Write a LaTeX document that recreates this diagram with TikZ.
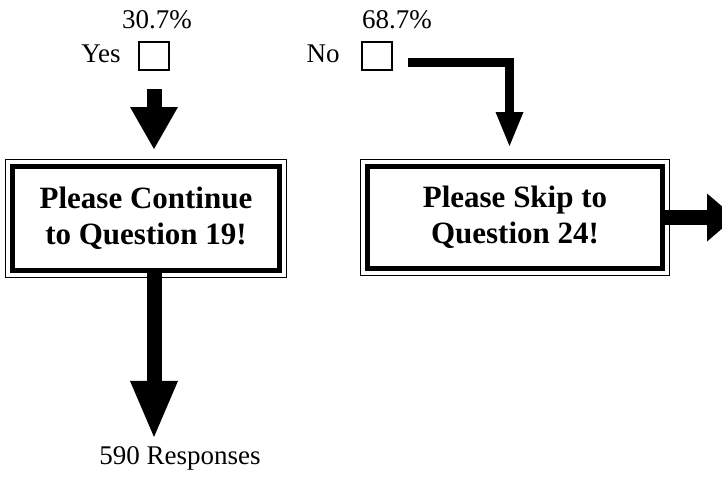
\documentclass[tikz,border=0pt]{standalone}
\usepackage{fontspec}
\setmainfont{Liberation Serif}
\usetikzlibrary{arrows.meta}

\begin{document}
\begin{tikzpicture}[x=1pt,y=-1pt,
    every node/.style={inner sep=0pt},
    lbl/.style={font=\fontsize{27}{32}\selectfont},
    tick/.style={draw,line width=2pt,minimum width=30pt,minimum height=28pt},
    sign/.style={draw,line width=5pt,align=center,
                 font=\fontsize{31}{36}\selectfont\bfseries},
    bigarrow/.style={line width=15pt,-{Triangle[length=56pt,width=48pt,line width=0pt]}},
    smallarrow/.style={line width=9pt,line join=miter,-{Triangle[length=34pt,width=28pt,line width=0pt]}}]
    \useasboundingbox (0,0) rectangle (722,477);
    \clip (0,0) rectangle (722,477);

    \node (yespct) [lbl] at (157,20) {30.7\%};
    \node (yeslbl) [lbl] at (101,54) {Yes};
    \node (yesbox) [tick] at (154,56) {};

    \node (nopct) [lbl] at (397,20) {68.7\%};
    \node (nolbl) [lbl] at (323,54) {No};
    \node (nobox) [tick] at (377,56) {};

    \node (contbox) [sign,minimum width=267pt,minimum height=104pt] at (146,218.5)
        {Please Continue\\to Question 19!};
    \node (skipbox) [sign,minimum width=295pt,minimum height=102pt] at (515,217.5)
        {Please Skip to\\Question 24!};

    \node (resp) [lbl] at (180,458) {590 Responses};

    \coordinate (bend) at (509.5,62.5);
    \coordinate (offpage) at (735,217.5);

  % outer thin frames
  \draw ([shift={(-4.5pt,4.5pt)}]contbox.north west) rectangle ([shift={(4.5pt,-4.5pt)}]contbox.south east);
  \draw ([shift={(-4.5pt,4.5pt)}]skipbox.north west) rectangle ([shift={(4.5pt,-4.5pt)}]skipbox.south east);

  \draw [bigarrow,-{Triangle[length=42pt,width=48pt,line width=0pt]},shorten <=18pt,shorten >=15pt]
      (yesbox.south) -- (yesbox.south |- contbox.north);
  \draw [bigarrow,shorten >=9pt] (yesbox.south |- contbox.south) -- (yesbox.south |- resp.north);
  \draw [smallarrow,shorten <=15pt,shorten >=18pt]
      ([yshift=-6.5pt]nobox.east) -- (bend) -- (bend |- skipbox.north);
  \draw [bigarrow,-{Triangle[length=28pt,width=48pt,line width=0pt]}] (skipbox.east) -- (offpage);
\end{tikzpicture}
\end{document}
